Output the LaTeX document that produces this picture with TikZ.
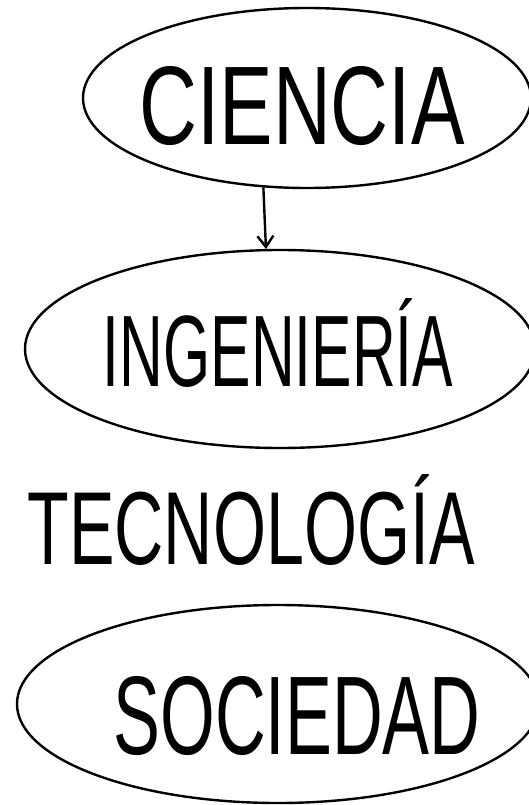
\documentclass[tikz,border=0pt]{standalone}
\usepackage{graphicx}
\usepackage{fontspec}
\newfontfamily\hand{Liberation Sans}
\usetikzlibrary{shapes.geometric,arrows.meta}
\tikzset{
  ell/.style={draw, ellipse, line width=2.4pt, inner sep=0pt},
  word/.style={inner sep=0pt, font=\hand},
  link/.style={line width=2.4pt, -{Straight Barb[length=11pt,width=16pt,line width=2.4pt]}}
}
\begin{document}
\begin{tikzpicture}[x=1pt,y=-1pt]
\useasboundingbox (0,0) rectangle (529,805);
\clip (0,0) rectangle (529,805);
\node[ell, minimum width=448pt, minimum height=180pt] (cien) at (307,98) {};
\node[word] (cient) at (302,106) {\resizebox{325pt}{78pt}{CIENCIA}};
\node[ell, minimum width=510pt, minimum height=198pt] (ing) at (280,349) {};
\node[word] (ingt) at (278,343) {\resizebox{350pt}{88pt}{INGENIERÍA}};
\node[word] (tec) at (251,520) {\resizebox{447pt}{90pt}{TECNOLOGÍA}};
\node[ell, minimum width=522pt, minimum height=198pt] (soc) at (278,704) {};
\node[word] (soct) at (297,716) {\resizebox{367pt}{78pt}{SOCIEDAD}};
\draw[link] (cien.244.5) -- (ing.98);
\end{tikzpicture}
\end{document}
